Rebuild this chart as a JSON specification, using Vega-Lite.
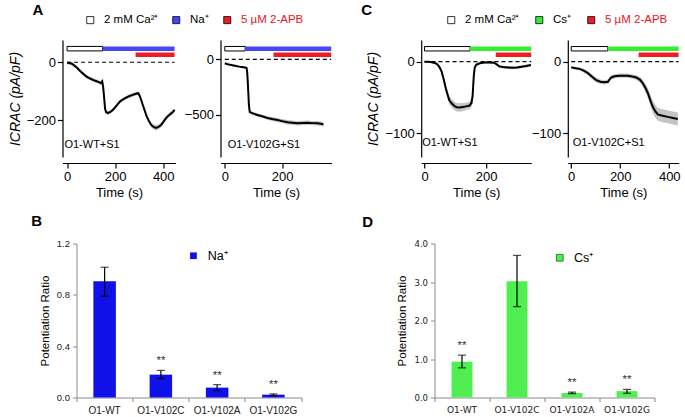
{
  "$schema": "https://vega.github.io/schema/vega-lite/v6.json",
  "padding": {"left": 7.5, "top": 2, "right": 0, "bottom": 0},
  "background": "white",
  "config": {
    "view": {"stroke": null},
    "font": "Liberation Sans",
    "axis": {"grid": false, "domainColor": "black", "tickColor": "black", "labelColor": "black", "titleColor": "black", "labelFontSize": 13, "titleFontSize": 13, "titleFontWeight": "normal", "tickSize": 5, "domainWidth": 1.2, "tickWidth": 1.2, "labelPadding": 2, "titlePadding": 3, "labelFont": "Liberation Sans", "titleFont": "Liberation Sans", "labelFlush": false, "labelOverlap": false},
    "legend": {"labelFont": "Liberation Sans", "labelColor": "black", "padding": 0},
    "title": {"font": "Liberation Sans", "fontSize": 15, "fontWeight": "bold", "anchor": "start", "frame": "group", "baseline": "alphabetic", "color": "black"}
  },
  "datasets": {
    "A1": [
      {"t":0,"v":-2,"lo":-8,"hi":4},{"t":10,"v":-3,"lo":-9,"hi":3},{"t":20,"v":-5,"lo":-11,"hi":1},{"t":30,"v":-11,"lo":-17,"hi":-5},
      {"t":40,"v":-18,"lo":-24,"hi":-12},{"t":50,"v":-27,"lo":-33,"hi":-21},{"t":60,"v":-35,"lo":-41,"hi":-29},{"t":70,"v":-42,"lo":-48,"hi":-36},
      {"t":80,"v":-49,"lo":-55,"hi":-43},{"t":90,"v":-54,"lo":-60,"hi":-48},{"t":100,"v":-58,"lo":-64,"hi":-52},{"t":110,"v":-62,"lo":-68,"hi":-56},
      {"t":120,"v":-65,"lo":-71,"hi":-59},{"t":130,"v":-68,"lo":-74,"hi":-62},{"t":140,"v":-72,"lo":-78,"hi":-66},{"t":146,"v":-66,"lo":-74,"hi":-58},
      {"t":150,"v":-85,"lo":-107,"hi":-63},{"t":154,"v":-120,"lo":-148,"hi":-92},{"t":158,"v":-160,"lo":-178,"hi":-142},{"t":162,"v":-172,"lo":-179,"hi":-165},
      {"t":170,"v":-176,"lo":-182,"hi":-170},{"t":180,"v":-172,"lo":-178,"hi":-166},{"t":190,"v":-165,"lo":-171,"hi":-159},{"t":200,"v":-156,"lo":-162,"hi":-150},
      {"t":210,"v":-146,"lo":-152,"hi":-140},{"t":220,"v":-136,"lo":-142,"hi":-130},{"t":230,"v":-130,"lo":-136,"hi":-124},{"t":240,"v":-125,"lo":-131,"hi":-119},
      {"t":250,"v":-121,"lo":-127,"hi":-115},{"t":260,"v":-117,"lo":-123,"hi":-111},{"t":270,"v":-114,"lo":-120,"hi":-108},{"t":280,"v":-111,"lo":-117,"hi":-105},
      {"t":290,"v":-108,"lo":-114,"hi":-102},{"t":296,"v":-107,"lo":-113,"hi":-101},{"t":302,"v":-116,"lo":-122,"hi":-110},{"t":310,"v":-135,"lo":-141,"hi":-129},
      {"t":320,"v":-160,"lo":-167,"hi":-153},{"t":330,"v":-185,"lo":-192,"hi":-178},{"t":340,"v":-203,"lo":-211,"hi":-195},{"t":350,"v":-217,"lo":-226,"hi":-208},
      {"t":360,"v":-224,"lo":-233,"hi":-215},{"t":370,"v":-227,"lo":-236,"hi":-218},{"t":380,"v":-224,"lo":-233,"hi":-215},{"t":390,"v":-218,"lo":-226,"hi":-210},
      {"t":400,"v":-207,"lo":-215,"hi":-199},{"t":410,"v":-195,"lo":-202,"hi":-188},{"t":420,"v":-186,"lo":-193,"hi":-179},{"t":430,"v":-179,"lo":-186,"hi":-172},
      {"t":440,"v":-172,"lo":-179,"hi":-165},{"t":447,"v":-165,"lo":-172,"hi":-158}
    ],
    "A2": [
      {"t":0,"v":-36,"lo":-44,"hi":-28},{"t":10,"v":-44,"lo":-52,"hi":-36},{"t":20,"v":-50,"lo":-58,"hi":-42},{"t":30,"v":-55,"lo":-63,"hi":-47},
      {"t":40,"v":-61,"lo":-69,"hi":-53},{"t":50,"v":-66,"lo":-74,"hi":-58},{"t":60,"v":-70,"lo":-78,"hi":-62},{"t":70,"v":-74,"lo":-82,"hi":-66},
      {"t":76,"v":-78,"lo":-88,"hi":-68},{"t":78,"v":-115,"lo":-155,"hi":-75},{"t":80,"v":-200,"lo":-270,"hi":-130},{"t":82,"v":-300,"lo":-380,"hi":-220},
      {"t":84,"v":-410,"lo":-460,"hi":-360},{"t":87,"v":-474,"lo":-489,"hi":-459},{"t":100,"v":-488,"lo":-503,"hi":-473},{"t":114,"v":-500,"lo":-515,"hi":-485},
      {"t":130,"v":-512,"lo":-527,"hi":-497},{"t":149,"v":-527,"lo":-542,"hi":-512},{"t":165,"v":-536,"lo":-554,"hi":-518},{"t":184,"v":-545,"lo":-563,"hi":-527},
      {"t":200,"v":-555,"lo":-573,"hi":-537},{"t":219,"v":-565,"lo":-585,"hi":-545},{"t":235,"v":-570,"lo":-590,"hi":-550},{"t":254,"v":-575,"lo":-595,"hi":-555},
      {"t":270,"v":-572,"lo":-592,"hi":-552},{"t":289,"v":-569,"lo":-589,"hi":-549},{"t":305,"v":-573,"lo":-593,"hi":-553},{"t":323,"v":-575,"lo":-595,"hi":-555},
      {"t":335,"v":-578,"lo":-598,"hi":-558},{"t":344,"v":-584,"lo":-604,"hi":-564}
    ],
    "C1": [
      {"t":0,"v":0,"lo":-1,"hi":1},{"t":10,"v":0,"lo":-1,"hi":1},{"t":20,"v":-0.5,"lo":-1.5,"hi":0.5},{"t":30,"v":-1.4,"lo":-2.4,"hi":-0.4},
      {"t":40,"v":-3,"lo":-4.5,"hi":-1.5},{"t":48,"v":-7,"lo":-9,"hi":-5},{"t":55,"v":-13,"lo":-16,"hi":-10},{"t":62,"v":-24,"lo":-28,"hi":-20},
      {"t":69,"v":-37,"lo":-42,"hi":-32},{"t":75,"v":-46,"lo":-51,"hi":-41},{"t":80,"v":-53.5,"lo":-59.5,"hi":-47.5},{"t":88,"v":-58,"lo":-64,"hi":-52},
      {"t":96,"v":-61.5,"lo":-67.5,"hi":-55.5},{"t":104,"v":-63.5,"lo":-69.5,"hi":-57.5},{"t":112,"v":-64,"lo":-70,"hi":-58},{"t":120,"v":-63.5,"lo":-69.5,"hi":-57.5},
      {"t":129,"v":-63,"lo":-68.5,"hi":-57.5},{"t":137,"v":-62,"lo":-67,"hi":-57},{"t":145,"v":-61.5,"lo":-66.5,"hi":-56.5},{"t":152,"v":-58,"lo":-64,"hi":-52},
      {"t":156,"v":-48,"lo":-58,"hi":-38},{"t":158,"v":-33,"lo":-45,"hi":-21},{"t":160,"v":-19,"lo":-27,"hi":-11},{"t":163,"v":-8,"lo":-11,"hi":-5},
      {"t":168,"v":-4,"lo":-6,"hi":-2},{"t":172,"v":-3.5,"lo":-5.5,"hi":-1.5},{"t":180,"v":-2,"lo":-3.5,"hi":-0.5},{"t":194,"v":-1,"lo":-2.5,"hi":0.5},
      {"t":210,"v":-1,"lo":-2.5,"hi":0.5},{"t":226,"v":-1.5,"lo":-3,"hi":0},{"t":235,"v":-4,"lo":-5.5,"hi":-2.5},{"t":242,"v":-6.5,"lo":-8.5,"hi":-4.5},
      {"t":255,"v":-7.5,"lo":-9.5,"hi":-5.5},{"t":269,"v":-8,"lo":-10,"hi":-6},{"t":285,"v":-8.5,"lo":-10.5,"hi":-6.5},{"t":301,"v":-8,"lo":-10,"hi":-6},
      {"t":315,"v":-7,"lo":-9,"hi":-5},{"t":330,"v":-6,"lo":-8,"hi":-4},{"t":345,"v":-4.6,"lo":-6.6,"hi":-2.6}
    ],
    "C2": [
      {"t":0,"v":-7.9,"lo":-9.9,"hi":-5.9},{"t":17,"v":-9,"lo":-11,"hi":-7},{"t":34,"v":-10,"lo":-12,"hi":-8},{"t":51,"v":-12.5,"lo":-15,"hi":-10},
      {"t":68,"v":-16,"lo":-19,"hi":-13},{"t":85,"v":-21,"lo":-24.5,"hi":-17.5},{"t":102,"v":-25.6,"lo":-29.1,"hi":-22.1},{"t":119,"v":-28,"lo":-31,"hi":-25},
      {"t":136,"v":-28.8,"lo":-31.8,"hi":-25.8},{"t":150,"v":-28,"lo":-31,"hi":-25},{"t":156,"v":-25,"lo":-28,"hi":-22},{"t":163,"v":-22,"lo":-25,"hi":-19},
      {"t":170,"v":-21,"lo":-24,"hi":-18},{"t":183,"v":-20,"lo":-23,"hi":-17},{"t":197,"v":-19.5,"lo":-22.5,"hi":-16.5},{"t":214,"v":-19.5,"lo":-22.5,"hi":-16.5},
      {"t":231,"v":-19.5,"lo":-22.5,"hi":-16.5},{"t":248,"v":-20.5,"lo":-23.5,"hi":-17.5},{"t":265,"v":-22,"lo":-25.5,"hi":-18.5},{"t":280,"v":-25,"lo":-29,"hi":-21},
      {"t":292,"v":-30,"lo":-35,"hi":-25},{"t":302,"v":-36,"lo":-42,"hi":-30},{"t":313,"v":-44,"lo":-51,"hi":-37},{"t":323,"v":-54,"lo":-62,"hi":-46},
      {"t":333,"v":-63,"lo":-72,"hi":-54},{"t":343,"v":-69,"lo":-78,"hi":-60},{"t":353,"v":-73.5,"lo":-82.5,"hi":-64.5},{"t":373,"v":-75.5,"lo":-84.5,"hi":-66.5},
      {"t":394,"v":-77,"lo":-86,"hi":-68},{"t":415,"v":-78.5,"lo":-87.5,"hi":-69.5},{"t":435,"v":-80,"lo":-89,"hi":-71}
    ],
    "sol": [
      {"panel":"A1","solution":"2 mM Ca²⁺","start":0,"end":148,"lane":1},
      {"panel":"A1","solution":"Na⁺","start":148,"end":447,"lane":1},
      {"panel":"A1","solution":"5 µM 2-APB","start":285,"end":447,"lane":2},
      {"panel":"A2","solution":"2 mM Ca²⁺","start":0,"end":71,"lane":1},
      {"panel":"A2","solution":"Na⁺","start":71,"end":371,"lane":1},
      {"panel":"A2","solution":"5 µM 2-APB","start":170,"end":371,"lane":2},
      {"panel":"C1","solution":"2 mM Ca²⁺","start":0,"end":148,"lane":1},
      {"panel":"C1","solution":"Cs⁺","start":148,"end":346,"lane":1},
      {"panel":"C1","solution":"5 µM 2-APB","start":231,"end":346,"lane":2},
      {"panel":"C2","solution":"2 mM Ca²⁺","start":0,"end":149,"lane":1},
      {"panel":"C2","solution":"Cs⁺","start":149,"end":438,"lane":1},
      {"panel":"C2","solution":"5 µM 2-APB","start":275,"end":438,"lane":2}
    ],
    "Bd": [
      {"group":"O1-WT","ratio":0.905,"lo":0.79,"hi":1.015,"sig":""},
      {"group":"O1-V102C","ratio":0.178,"lo":0.147,"hi":0.211,"sig":"**"},
      {"group":"O1-V102A","ratio":0.077,"lo":0.054,"hi":0.1,"sig":"**"},
      {"group":"O1-V102G","ratio":0.022,"lo":0.014,"hi":0.028,"sig":"**"}
    ],
    "Dd": [
      {"group":"O1-WT","ratio":0.93,"lo":0.77,"hi":1.1,"sig":"**"},
      {"group":"O1-V102C","ratio":3.02,"lo":2.36,"hi":3.69,"sig":""},
      {"group":"O1-V102A","ratio":0.12,"lo":0.1,"hi":0.14,"sig":"**"},
      {"group":"O1-V102G","ratio":0.165,"lo":0.11,"hi":0.21,"sig":"**"}
    ]
  },
  "concat": [
    {
      "concat": [
        {
          "concat": [
            {
              "width": 113, "height": 117,
              "layer": [
                {"data": {"name": "A1"}, "mark": {"type": "area", "color": "#c4c4c4"},
                 "encoding": {
                   "x": {"field": "t", "type": "quantitative", "scale": {"domain": [-19, 451], "nice": false, "zero": false}, "axis": {"values": [0, 200, 400], "title": "Time (s)", "offset": 6}},
                   "y": {"field": "lo", "type": "quantitative", "scale": {"domain": [-328, 77], "nice": false, "zero": false}, "axis": {"values": [0, -200], "title": "ICRAC (pA/pF)", "titleFontSize": 14, "titleFontStyle": "italic", "titlePadding": 4}},
                   "y2": {"field": "hi"}}},
                {"data": {"name": "A1"}, "mark": {"type": "line", "color": "black", "strokeWidth": 2},
                 "encoding": {"x": {"field": "t", "type": "quantitative"}, "y": {"field": "v", "type": "quantitative"}}},
                {"data": {"values": [{"level": 0, "from": 0, "to": 447}]}, "mark": {"type": "rule", "strokeDash": [4, 3], "color": "black", "strokeWidth": 1.2},
                 "encoding": {"x": {"field": "from", "type": "quantitative"}, "x2": {"field": "to"}, "y": {"field": "level", "type": "quantitative"}}},
                {"data": {"name": "sol"}, "transform": [{"filter": "datum.panel == 'A1' && datum.lane == 1"}], "mark": {"type": "rect", "strokeWidth": 1},
                 "encoding": {"x": {"field": "start", "type": "quantitative"}, "x2": {"field": "end"}, "y": {"datum": 54.8}, "y2": {"datum": 39.2},
                   "color": {"field": "solution", "type": "nominal", "scale": {"domain": ["2 mM Ca²⁺", "Na⁺", "5 µM 2-APB"], "range": ["#ffffff", "#4646f5", "#ee1c24"]},
                     "legend": {"orient": "none", "legendX": 22, "legendY": -26, "direction": "horizontal", "title": null, "symbolType": "square", "symbolSize": 50, "symbolStrokeColor": "black", "symbolStrokeWidth": 0.8, "labelFontSize": 11.5, "labelOffset": 8, "columnPadding": 12, "padding": 0,
                       "encode": {"labels": {"update": {"fill": {"signal": "datum.label == '5 µM 2-APB' ? '#e8141e' : 'black'"}}}}}},
                   "stroke": {"condition": {"test": "datum.solution == '2 mM Ca²⁺'", "value": "black"}, "value": "transparent"}}},
                {"data": {"name": "sol"}, "transform": [{"filter": "datum.panel == 'A1' && datum.lane == 2"}], "mark": {"type": "rect"},
                 "encoding": {"x": {"field": "start", "type": "quantitative"}, "x2": {"field": "end"}, "y": {"datum": 34}, "y2": {"datum": 18.4},
                   "color": {"field": "solution", "type": "nominal"}}},
                {"data": {"values": [{"label": "O1-WT+S1", "t": -11, "v": -287}]}, "mark": {"type": "text", "align": "left", "baseline": "middle", "fontSize": 11, "color": "black"},
                 "encoding": {"x": {"field": "t", "type": "quantitative"}, "y": {"field": "v", "type": "quantitative"}, "text": {"field": "label"}}}
              ]
            },
            {
              "width": 111, "height": 117,
              "title": {"text": "A", "dx": -188, "offset": 22.5},
              "layer": [
                {"data": {"name": "A2"}, "mark": {"type": "area", "color": "#c4c4c4"},
                 "encoding": {
                   "x": {"field": "t", "type": "quantitative", "scale": {"domain": [-15, 372], "nice": false, "zero": false}, "axis": {"values": [0, 200], "title": "Time (s)", "offset": 6}},
                   "y": {"field": "lo", "type": "quantitative", "scale": {"domain": [-877, 173], "nice": false, "zero": false}, "axis": {"values": [0, -500], "title": null}},
                   "y2": {"field": "hi"}}},
                {"data": {"name": "A2"}, "mark": {"type": "line", "color": "black", "strokeWidth": 2},
                 "encoding": {"x": {"field": "t", "type": "quantitative"}, "y": {"field": "v", "type": "quantitative"}}},
                {"data": {"values": [{"level": 0, "from": 0, "to": 371}]}, "mark": {"type": "rule", "strokeDash": [4, 3], "color": "black", "strokeWidth": 1.2},
                 "encoding": {"x": {"field": "from", "type": "quantitative"}, "x2": {"field": "to"}, "y": {"field": "level", "type": "quantitative"}}},
                {"data": {"name": "sol"}, "transform": [{"filter": "datum.panel == 'A2' && datum.lane == 1"}], "mark": {"type": "rect", "strokeWidth": 1},
                 "encoding": {"x": {"field": "start", "type": "quantitative"}, "x2": {"field": "end"}, "y": {"datum": 115}, "y2": {"datum": 74.5},
                   "color": {"field": "solution", "type": "nominal", "scale": {"domain": ["2 mM Ca²⁺", "Na⁺", "5 µM 2-APB"], "range": ["#ffffff", "#4646f5", "#ee1c24"]}, "legend": null},
                   "stroke": {"condition": {"test": "datum.solution == '2 mM Ca²⁺'", "value": "black"}, "value": "transparent"}}},
                {"data": {"name": "sol"}, "transform": [{"filter": "datum.panel == 'A2' && datum.lane == 2"}], "mark": {"type": "rect"},
                 "encoding": {"x": {"field": "start", "type": "quantitative"}, "x2": {"field": "end"}, "y": {"datum": 61}, "y2": {"datum": 20.6},
                   "color": {"field": "solution", "type": "nominal"}}},
                {"data": {"values": [{"label": "O1-V102G+S1", "t": 10, "v": -769}]}, "mark": {"type": "text", "align": "left", "baseline": "middle", "fontSize": 11, "color": "black"},
                 "encoding": {"x": {"field": "t", "type": "quantitative"}, "y": {"field": "v", "type": "quantitative"}, "text": {"field": "label"}}}
              ]
            }
          ],
          "columns": 2, "spacing": 45, "bounds": "flush", "align": "none",
          "resolve": {"scale": {"color": "independent"}, "legend": {"color": "independent"}}
        },
        {
          "concat": [
            {
              "width": 110, "height": 117,
              "layer": [
                {"data": {"name": "C1"}, "mark": {"type": "area", "color": "#c4c4c4"},
                 "encoding": {
                   "x": {"field": "t", "type": "quantitative", "scale": {"domain": [-10.7, 346], "nice": false, "zero": false}, "axis": {"values": [0, 200], "title": "Time (s)", "offset": 6}},
                   "y": {"field": "lo", "type": "quantitative", "scale": {"domain": [-133, 30.3], "nice": false, "zero": false}, "axis": {"values": [0, -100], "title": "ICRAC (pA/pF)", "titleFontSize": 14, "titleFontStyle": "italic", "titlePadding": 4}},
                   "y2": {"field": "hi"}}},
                {"data": {"name": "C1"}, "mark": {"type": "line", "color": "black", "strokeWidth": 2},
                 "encoding": {"x": {"field": "t", "type": "quantitative"}, "y": {"field": "v", "type": "quantitative"}}},
                {"data": {"values": [{"level": 0, "from": 0, "to": 346}]}, "mark": {"type": "rule", "strokeDash": [4, 3], "color": "black", "strokeWidth": 1.2},
                 "encoding": {"x": {"field": "from", "type": "quantitative"}, "x2": {"field": "to"}, "y": {"field": "level", "type": "quantitative"}}},
                {"data": {"name": "sol"}, "transform": [{"filter": "datum.panel == 'C1' && datum.lane == 1"}], "mark": {"type": "rect", "strokeWidth": 1},
                 "encoding": {"x": {"field": "start", "type": "quantitative"}, "x2": {"field": "end"}, "y": {"datum": 21.2}, "y2": {"datum": 15},
                   "color": {"field": "solution", "type": "nominal", "scale": {"domain": ["2 mM Ca²⁺", "Cs⁺", "5 µM 2-APB"], "range": ["#ffffff", "#33ee33", "#ee1c24"]},
                     "legend": {"orient": "none", "legendX": 24.3, "legendY": -26, "direction": "horizontal", "title": null, "symbolType": "square", "symbolSize": 50, "symbolStrokeColor": "black", "symbolStrokeWidth": 0.8, "labelFontSize": 11.5, "labelOffset": 8, "columnPadding": 14, "padding": 0,
                       "encode": {"labels": {"update": {"fill": {"signal": "datum.label == '5 µM 2-APB' ? '#e8141e' : 'black'"}}}}}},
                   "stroke": {"condition": {"test": "datum.solution == '2 mM Ca²⁺'", "value": "black"}, "value": "transparent"}}},
                {"data": {"name": "sol"}, "transform": [{"filter": "datum.panel == 'C1' && datum.lane == 2"}], "mark": {"type": "rect"},
                 "encoding": {"x": {"field": "start", "type": "quantitative"}, "x2": {"field": "end"}, "y": {"datum": 12.9}, "y2": {"datum": 6.6},
                   "color": {"field": "solution", "type": "nominal"}}},
                {"data": {"values": [{"label": "O1-WT+S1", "t": -7.5, "v": -113.6}]}, "mark": {"type": "text", "align": "left", "baseline": "middle", "fontSize": 11, "color": "black"},
                 "encoding": {"x": {"field": "t", "type": "quantitative"}, "y": {"field": "v", "type": "quantitative"}, "text": {"field": "label"}}}
              ]
            },
            {
              "width": 111, "height": 117,
              "title": {"text": "C", "dx": -206.6, "offset": 22.5},
              "layer": [
                {"data": {"name": "C2"}, "mark": {"type": "area", "color": "#c4c4c4"},
                 "encoding": {
                   "x": {"field": "t", "type": "quantitative", "scale": {"domain": [-13.9, 439], "nice": false, "zero": false}, "axis": {"values": [0, 200, 400], "title": "Time (s)", "offset": 6}},
                   "y": {"field": "lo", "type": "quantitative", "scale": {"domain": [-133, 30.3], "nice": false, "zero": false}, "axis": {"values": [0, -100], "title": null}},
                   "y2": {"field": "hi"}}},
                {"data": {"name": "C2"}, "mark": {"type": "line", "color": "black", "strokeWidth": 2},
                 "encoding": {"x": {"field": "t", "type": "quantitative"}, "y": {"field": "v", "type": "quantitative"}}},
                {"data": {"values": [{"level": 0, "from": 0, "to": 438}]}, "mark": {"type": "rule", "strokeDash": [4, 3], "color": "black", "strokeWidth": 1.2},
                 "encoding": {"x": {"field": "from", "type": "quantitative"}, "x2": {"field": "to"}, "y": {"field": "level", "type": "quantitative"}}},
                {"data": {"name": "sol"}, "transform": [{"filter": "datum.panel == 'C2' && datum.lane == 1"}], "mark": {"type": "rect", "strokeWidth": 1},
                 "encoding": {"x": {"field": "start", "type": "quantitative"}, "x2": {"field": "end"}, "y": {"datum": 21.2}, "y2": {"datum": 15},
                   "color": {"field": "solution", "type": "nominal", "scale": {"domain": ["2 mM Ca²⁺", "Cs⁺", "5 µM 2-APB"], "range": ["#ffffff", "#33ee33", "#ee1c24"]}, "legend": null},
                   "stroke": {"condition": {"test": "datum.solution == '2 mM Ca²⁺'", "value": "black"}, "value": "transparent"}}},
                {"data": {"name": "sol"}, "transform": [{"filter": "datum.panel == 'C2' && datum.lane == 2"}], "mark": {"type": "rect"},
                 "encoding": {"x": {"field": "start", "type": "quantitative"}, "x2": {"field": "end"}, "y": {"datum": 12.9}, "y2": {"datum": 6.6},
                   "color": {"field": "solution", "type": "nominal"}}},
                {"data": {"values": [{"label": "O1-V102C+S1", "t": 6.5, "v": -113.6}]}, "mark": {"type": "text", "align": "left", "baseline": "middle", "fontSize": 11, "color": "black"},
                 "encoding": {"x": {"field": "t", "type": "quantitative"}, "y": {"field": "v", "type": "quantitative"}, "text": {"field": "label"}}}
              ]
            }
          ],
          "columns": 2, "spacing": 36.6, "bounds": "flush", "align": "none",
          "resolve": {"scale": {"color": "independent"}, "legend": {"color": "independent"}}
        }
      ],
      "columns": 2, "spacing": 358.7, "bounds": "flush", "align": "none",
      "resolve": {"scale": {"color": "independent"}, "legend": {"color": "independent"}}
    },
    {
      "concat": [
        {
          "concat": [
            {"width": 1, "height": 1, "data": {"values": []}, "mark": "point", "encoding": {}},
            {
              "width": 225, "height": 154,
              "title": {"text": "B", "dx": -45.3, "offset": 10},
              "data": {"name": "Bd"},
              "layer": [
                {"mark": {"type": "bar", "width": {"band": 0.4}},
                 "encoding": {
                   "x": {"field": "group", "type": "nominal", "sort": null, "scale": {"paddingInner": 0, "paddingOuter": 0},
                     "axis": {"title": null, "labelAngle": 0, "bandPosition": 1, "tickExtra": true, "domainColor": "#8a8a8a", "tickColor": "#8a8a8a", "tickSize": 4, "labelFontSize": 10, "labelColor": "#222", "labelPadding": 4, "domainWidth": 1, "tickWidth": 1}},
                   "y": {"field": "ratio", "type": "quantitative", "scale": {"domain": [0, 1.2], "nice": false},
                     "axis": {"values": [0, 0.4, 0.8, 1.2], "tickCount": 10, "format": ".1f", "title": "Potentiation Ratio", "titleFontSize": 11.5, "titlePadding": 6, "domainColor": "#8a8a8a", "tickColor": "#8a8a8a", "tickSize": 4, "labelFontSize": 9.5, "labelColor": "#222", "domainWidth": 1, "tickWidth": 1, "labelPadding": 3, "labelOverlap": false}},
                   "color": {"datum": "Na⁺", "scale": {"domain": ["Na⁺"], "range": ["#1010e8"]},
                     "legend": {"orient": "none", "legendX": 110.7, "legendY": 6, "title": null, "symbolType": "square", "symbolSize": 45, "labelFontSize": 12.5, "labelOffset": 8, "padding": 0, "symbolStrokeWidth": 0}}}},
                {"mark": {"type": "rule", "color": "black", "strokeWidth": 1.2},
                 "encoding": {"x": {"field": "group", "type": "nominal", "sort": null}, "y": {"field": "lo", "type": "quantitative"}, "y2": {"field": "hi"}}},
                {"mark": {"type": "tick", "color": "black", "size": 8, "thickness": 1.2, "orient": "horizontal"},
                 "encoding": {"x": {"field": "group", "type": "nominal", "sort": null}, "y": {"field": "lo", "type": "quantitative"}}},
                {"mark": {"type": "tick", "color": "black", "size": 8, "thickness": 1.2, "orient": "horizontal"},
                 "encoding": {"x": {"field": "group", "type": "nominal", "sort": null}, "y": {"field": "hi", "type": "quantitative"}}},
                {"mark": {"type": "text", "dy": -9, "fontSize": 11.5, "color": "#333", "baseline": "middle"},
                 "encoding": {"x": {"field": "group", "type": "nominal", "sort": null}, "y": {"field": "hi", "type": "quantitative"}, "text": {"field": "sig"}}}
              ]
            }
          ],
          "columns": 2, "spacing": 13, "bounds": "flush", "align": "none",
          "resolve": {"scale": {"color": "independent"}, "legend": {"color": "independent"}}
        },
        {
          "width": 220, "height": 154,
          "title": {"text": "D", "dx": -72.3, "offset": 10},
          "data": {"name": "Dd"},
          "layer": [
            {"mark": {"type": "bar", "width": {"band": 0.38}},
             "encoding": {
               "x": {"field": "group", "type": "nominal", "sort": null, "scale": {"paddingInner": 0, "paddingOuter": 0},
                 "axis": {"title": null, "labelAngle": 0, "bandPosition": 1, "tickExtra": true, "domainColor": "#8a8a8a", "tickColor": "#8a8a8a", "tickSize": 4, "labelFont": "DejaVu Sans", "labelFontSize": 9, "labelColor": "#222", "labelPadding": 4, "domainWidth": 1, "tickWidth": 1}},
               "y": {"field": "ratio", "type": "quantitative", "scale": {"domain": [0, 4], "nice": false},
                 "axis": {"values": [0, 1, 2, 3, 4], "tickCount": 10, "format": ".1f", "title": "Potentiation Ratio", "titleFontSize": 11.5, "titlePadding": 6, "domainColor": "#8a8a8a", "tickColor": "#8a8a8a", "tickSize": 4, "labelFont": "DejaVu Sans", "labelFontSize": 8.5, "labelColor": "#222", "domainWidth": 1, "tickWidth": 1, "labelPadding": 3, "labelOverlap": false, "labelBound": false}},
               "color": {"datum": "Cs⁺", "scale": {"domain": ["Cs⁺"], "range": ["#50ee50"]},
                 "legend": {"orient": "none", "legendX": 119, "legendY": 8, "title": null, "symbolType": "square", "symbolSize": 45, "labelFontSize": 12.5, "labelOffset": 8, "padding": 0, "symbolStrokeColor": "#1c8c1c", "symbolStrokeWidth": 1}}}},
            {"mark": {"type": "rule", "color": "black", "strokeWidth": 1.2},
             "encoding": {"x": {"field": "group", "type": "nominal", "sort": null}, "y": {"field": "lo", "type": "quantitative"}, "y2": {"field": "hi"}}},
            {"mark": {"type": "tick", "color": "black", "size": 8, "thickness": 1.2, "orient": "horizontal"},
             "encoding": {"x": {"field": "group", "type": "nominal", "sort": null}, "y": {"field": "lo", "type": "quantitative"}}},
            {"mark": {"type": "tick", "color": "black", "size": 8, "thickness": 1.2, "orient": "horizontal"},
             "encoding": {"x": {"field": "group", "type": "nominal", "sort": null}, "y": {"field": "hi", "type": "quantitative"}}},
            {"mark": {"type": "text", "dy": -9, "fontSize": 11.5, "color": "#333", "baseline": "middle"},
             "encoding": {"x": {"field": "group", "type": "nominal", "sort": null}, "y": {"field": "hi", "type": "quantitative"}, "text": {"field": "sig"}}}
          ]
        }
      ],
      "columns": 2, "spacing": 372, "bounds": "flush", "align": "none",
      "resolve": {"scale": {"color": "independent"}, "legend": {"color": "independent"}}
    }
  ],
  "columns": 1, "spacing": 203.5, "bounds": "flush", "align": "none",
  "resolve": {"scale": {"color": "independent"}, "legend": {"color": "independent"}}
}
